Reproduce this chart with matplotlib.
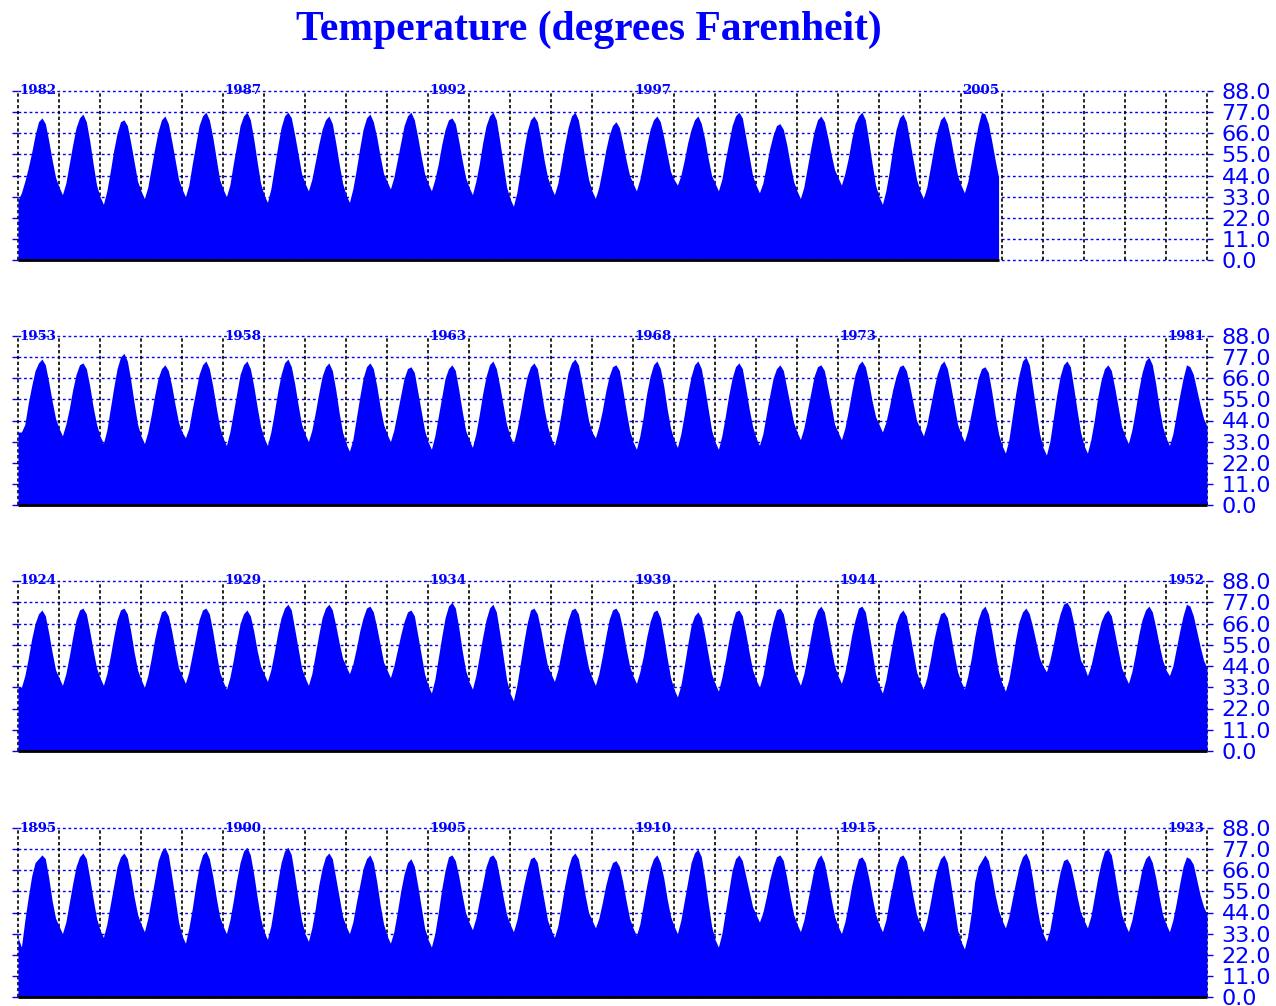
import matplotlib
matplotlib.use("Agg")
import matplotlib.pyplot as plt
import numpy as np

# monthly temperatures (deg F), values at the start of each month, one row per year
temp_1895_1923 = [
    31, 26, 40, 52, 63, 70, 72, 74, 72, 62, 50, 41,  # 1895
    37, 33, 39, 49, 59, 68, 73, 75, 72, 62, 51, 41,  # 1896
    35, 31, 38, 48, 58, 68, 73, 75, 72, 63, 52, 43,  # 1897
    38, 34, 41, 51, 61, 71, 76, 78, 74, 63, 51, 39,  # 1898
    32, 28, 36, 46, 58, 68, 74, 76, 72, 63, 52, 42,  # 1899
    37, 33, 40, 50, 61, 70, 76, 78, 74, 64, 52, 41,  # 1900
    34, 30, 37, 48, 60, 70, 76, 78, 74, 63, 51, 40,  # 1901
    33, 29, 36, 46, 58, 67, 73, 75, 72, 62, 52, 42,  # 1902
    37, 33, 39, 49, 58, 67, 72, 74, 70, 60, 48, 38,  # 1903
    32, 28, 34, 44, 55, 64, 70, 72, 68, 58, 47, 36,  # 1904
    30, 26, 33, 44, 56, 66, 73, 74, 71, 63, 53, 44,  # 1905
    39, 35, 41, 50, 59, 68, 73, 74, 71, 62, 52, 43,  # 1906
    38, 34, 40, 49, 58, 66, 72, 73, 70, 60, 50, 40,  # 1907
    35, 31, 37, 47, 58, 67, 73, 75, 72, 63, 53, 44,  # 1908
    40, 36, 41, 49, 58, 65, 70, 71, 68, 60, 50, 41,  # 1909
    36, 32, 38, 48, 58, 67, 72, 74, 70, 62, 51, 42,  # 1910
    37, 33, 40, 50, 60, 70, 75, 77, 73, 62, 49, 37,  # 1911
    30, 26, 33, 44, 55, 66, 72, 74, 71, 63, 55, 47,  # 1912
    43, 39, 44, 52, 61, 68, 73, 74, 71, 62, 52, 43,  # 1913
    38, 34, 40, 49, 58, 67, 72, 74, 70, 61, 51, 42,  # 1914
    37, 33, 39, 48, 58, 66, 72, 73, 70, 62, 52, 43,  # 1915
    38, 34, 40, 50, 59, 68, 73, 74, 71, 62, 52, 43,  # 1916
    38, 34, 40, 49, 59, 67, 72, 74, 70, 59, 47, 35,  # 1917
    29, 25, 32, 44, 60, 68, 71, 74, 71, 63, 53, 45,  # 1918
    40, 36, 42, 51, 60, 68, 73, 75, 71, 61, 49, 39,  # 1919
    33, 29, 35, 45, 56, 65, 71, 72, 69, 61, 52, 44,  # 1920
    40, 36, 42, 52, 62, 70, 76, 77, 74, 64, 53, 43,  # 1921
    38, 34, 40, 49, 58, 67, 72, 74, 70, 62, 52, 43,  # 1922
    38, 34, 40, 49, 59, 68, 73, 72, 69, 61, 53, 47,  # 1923
]

temp_1924_1952 = [
    33, 33, 39, 48, 58, 66, 71, 73, 70, 61, 51, 42,  # 1924
    38, 34, 40, 49, 59, 68, 73, 74, 71, 62, 52, 43,  # 1925
    38, 34, 40, 49, 59, 68, 73, 74, 71, 62, 51, 42,  # 1926
    37, 33, 39, 48, 58, 66, 72, 73, 70, 62, 52, 43,  # 1927
    39, 35, 41, 50, 59, 68, 73, 74, 71, 62, 51, 41,  # 1928
    36, 32, 38, 47, 57, 66, 71, 73, 70, 62, 52, 44,  # 1929
    40, 36, 42, 51, 61, 69, 74, 76, 73, 63, 53, 43,  # 1930
    38, 34, 40, 50, 60, 69, 74, 76, 73, 65, 56, 48,  # 1931
    44, 40, 45, 53, 62, 69, 74, 75, 72, 64, 55, 46,  # 1932
    42, 38, 44, 52, 60, 67, 72, 73, 70, 60, 50, 40,  # 1933
    34, 30, 37, 48, 59, 69, 75, 77, 74, 64, 52, 42,  # 1934
    36, 32, 39, 49, 59, 68, 74, 76, 72, 61, 49, 37,  # 1935
    30, 26, 34, 45, 56, 66, 73, 74, 71, 63, 53, 44,  # 1936
    40, 36, 42, 51, 60, 68, 73, 74, 71, 62, 52, 43,  # 1937
    38, 34, 40, 49, 59, 68, 73, 74, 71, 63, 53, 44,  # 1938
    39, 35, 41, 49, 59, 67, 72, 73, 69, 59, 48, 38,  # 1939
    32, 28, 34, 44, 55, 65, 70, 72, 69, 60, 50, 40,  # 1940
    35, 31, 38, 47, 57, 66, 72, 73, 70, 61, 51, 42,  # 1941
    37, 33, 39, 49, 59, 67, 73, 74, 71, 62, 52, 43,  # 1942
    38, 34, 40, 49, 59, 68, 73, 75, 72, 63, 53, 44,  # 1943
    39, 35, 41, 50, 60, 68, 74, 75, 72, 62, 51, 40,  # 1944
    34, 30, 37, 47, 57, 66, 71, 73, 70, 61, 51, 41,  # 1945
    36, 32, 38, 47, 57, 65, 71, 72, 69, 60, 50, 41,  # 1946
    36, 32, 39, 48, 59, 68, 73, 75, 71, 62, 51, 41,  # 1947
    35, 31, 37, 47, 58, 67, 72, 74, 71, 64, 56, 48,  # 1948
    44, 41, 47, 55, 64, 71, 76, 77, 74, 66, 56, 47,  # 1949
    44, 39, 44, 52, 60, 67, 71, 73, 70, 61, 52, 43,  # 1950
    39, 35, 41, 50, 60, 68, 73, 75, 72, 64, 55, 47,  # 1951
    42, 39, 44, 53, 62, 70, 76, 75, 70, 62, 54, 47,  # 1952
]

temp_1953_1981 = [
    38, 38, 42, 53, 62, 70, 74, 76, 73, 64, 54, 45,  # 1953
    40, 36, 42, 50, 60, 68, 73, 74, 71, 62, 51, 42,  # 1954
    36, 32, 39, 50, 61, 71, 77, 79, 75, 65, 53, 42,  # 1955
    36, 32, 38, 47, 57, 66, 71, 73, 70, 62, 52, 43,  # 1956
    38, 35, 40, 50, 59, 68, 73, 75, 71, 62, 51, 41,  # 1957
    35, 31, 38, 48, 58, 68, 73, 75, 71, 62, 51, 41,  # 1958
    35, 31, 38, 48, 59, 68, 74, 76, 72, 63, 52, 42,  # 1959
    37, 33, 39, 48, 58, 67, 72, 74, 70, 60, 48, 38,  # 1960
    32, 28, 34, 45, 56, 66, 72, 74, 71, 62, 51, 42,  # 1961
    37, 33, 39, 48, 57, 66, 71, 72, 69, 59, 49, 39,  # 1962
    33, 29, 36, 46, 56, 66, 71, 73, 70, 60, 49, 39,  # 1963
    34, 30, 37, 47, 58, 67, 73, 75, 71, 62, 52, 42,  # 1964
    36, 32, 39, 48, 58, 67, 72, 74, 71, 61, 50, 41,  # 1965
    35, 31, 38, 48, 59, 69, 74, 76, 73, 64, 54, 44,  # 1966
    38, 35, 41, 49, 59, 67, 72, 73, 70, 60, 49, 39,  # 1967
    33, 29, 36, 46, 58, 67, 73, 75, 71, 62, 50, 40,  # 1968
    34, 30, 37, 47, 58, 67, 73, 75, 71, 61, 50, 39,  # 1969
    33, 29, 36, 46, 57, 66, 72, 74, 71, 61, 50, 41,  # 1970
    35, 31, 37, 47, 57, 66, 71, 73, 70, 61, 52, 43,  # 1971
    38, 34, 40, 49, 58, 67, 72, 73, 70, 61, 52, 42,  # 1972
    38, 34, 40, 49, 59, 68, 73, 75, 72, 64, 54, 46,  # 1973
    42, 38, 43, 51, 60, 67, 72, 73, 70, 62, 53, 44,  # 1974
    40, 36, 42, 51, 60, 68, 73, 75, 71, 62, 52, 42,  # 1975
    37, 33, 39, 48, 57, 66, 71, 72, 69, 59, 47, 37,  # 1976
    31, 27, 34, 46, 58, 68, 75, 77, 73, 61, 49, 37,  # 1977
    30, 26, 33, 45, 57, 67, 73, 75, 72, 61, 49, 38,  # 1978
    31, 27, 34, 44, 56, 65, 71, 73, 70, 61, 51, 41,  # 1979
    36, 32, 39, 49, 60, 69, 75, 77, 73, 63, 51, 41,  # 1980
    35, 31, 37, 47, 57, 66, 73, 72, 68, 60, 52, 45,  # 1981
]

temp_1982_2005 = [
    31, 35, 41, 48, 56, 65, 72, 74, 71, 62, 52, 43,  # 1982
    38, 34, 40, 50, 60, 69, 74, 76, 72, 62, 50, 39,  # 1983
    33, 29, 36, 46, 57, 66, 72, 73, 70, 61, 51, 41,  # 1984
    36, 32, 38, 48, 58, 67, 73, 75, 71, 62, 52, 42,  # 1985
    37, 33, 39, 50, 60, 70, 75, 77, 73, 64, 53, 42,  # 1986
    37, 33, 39, 50, 60, 70, 75, 77, 73, 63, 51, 40,  # 1987
    34, 30, 37, 48, 59, 69, 75, 77, 74, 65, 55, 45,  # 1988
    40, 36, 42, 51, 60, 68, 73, 75, 71, 61, 50, 40,  # 1989
    34, 30, 37, 47, 58, 68, 74, 76, 72, 64, 54, 45,  # 1990
    41, 37, 43, 52, 61, 70, 75, 77, 73, 64, 54, 45,  # 1991
    40, 36, 42, 50, 60, 68, 73, 74, 71, 62, 52, 43,  # 1992
    38, 34, 41, 50, 61, 70, 75, 77, 73, 62, 50, 38,  # 1993
    32, 28, 35, 46, 57, 67, 73, 75, 72, 63, 52, 43,  # 1994
    38, 34, 40, 50, 60, 69, 75, 77, 73, 63, 52, 42,  # 1995
    36, 32, 38, 47, 57, 65, 70, 72, 69, 61, 52, 44,  # 1996
    40, 36, 42, 51, 60, 68, 73, 75, 72, 64, 55, 46,  # 1997
    42, 39, 44, 52, 61, 68, 73, 75, 71, 63, 53, 44,  # 1998
    40, 36, 42, 52, 61, 70, 75, 77, 74, 64, 54, 44,  # 1999
    39, 35, 40, 49, 58, 65, 70, 71, 68, 60, 50, 41,  # 2000
    36, 32, 38, 48, 58, 67, 73, 75, 72, 64, 55, 47,  # 2001
    43, 39, 45, 53, 63, 71, 75, 77, 73, 62, 50, 39,  # 2002
    33, 29, 36, 46, 58, 68, 74, 76, 72, 62, 52, 42,  # 2003
    36, 32, 38, 48, 58, 67, 73, 75, 71, 63, 53, 44,  # 2004
    39, 35, 41, 51, 61, 70, 77, 76, 71, 62, 52, 43,  # 2005
]

# value at the right edge of each panel (first of January of the following year)
edge_values = [None, 41, 43, 43]

panel_data = [temp_1982_2005, temp_1953_1981, temp_1924_1952, temp_1895_1923]
panel_start = [1982, 1953, 1924, 1895]
panel_labels = [
    [1982, 1987, 1992, 1997, 2005],
    [1953, 1958, 1963, 1968, 1973, 1981],
    [1924, 1929, 1934, 1939, 1944, 1952],
    [1895, 1900, 1905, 1910, 1915, 1923],
]
yticks = [0, 11, 22, 33, 44, 55, 66, 77, 88]

BLUE = "#0000ff"
W, H = 1276, 1006
fig = plt.figure(figsize=(W / 100, H / 100), dpi=100)

# pixel geometry of the panels: (top of 88 line, 0 line)
tops = [91, 336, 581, 828]
bottoms = [260, 505, 751, 997]
x_left, x_right = 18, 1207

for i in range(4):
    ax = fig.add_axes([x_left / W, 1 - bottoms[i] / H,
                       (x_right - x_left) / W, (bottoms[i] - tops[i]) / H])
    vals = list(panel_data[i])
    x = list(np.arange(len(vals)) / 12.0)
    if edge_values[i] is not None:
        x.append(29.0)
        vals.append(edge_values[i])
    ax.fill_between(x, 0, vals, color=BLUE, lw=0, zorder=3)
    # black base line only under the data
    ax.plot([0, x[-1]], [0, 0], color="black", lw=2, zorder=5,
            clip_on=False, solid_capstyle="butt")

    for yv in yticks:
        ax.axhline(yv, color=BLUE, lw=1.0, ls=(0, (2, 2)), zorder=1, clip_on=False)
    for k in range(30):
        ax.axvline(k, color="black", lw=1.2, ls=(0, (2, 1.5)), zorder=2, clip_on=False)

    ax.set_xlim(0, 29)
    ax.set_ylim(0, 88)
    for s in ax.spines.values():
        s.set_visible(False)
    ax.set_xticks([])
    ax.set_yticks(yticks)
    ax.set_yticklabels(["%.1f" % v for v in yticks])
    ax.tick_params(axis="y", which="both", left=True, right=True,
                   labelleft=False, labelright=True, direction="out",
                   length=4.5, width=1, color=BLUE, labelcolor=BLUE,
                   labelsize=16, pad=6)
    for lab in ax.get_yticklabels():
        lab.set_fontfamily("DejaVu Sans")

    for yr in panel_labels[i]:
        ax.text(yr - panel_start[i] + 0.03, 88, str(yr), ha="left", va="center",
                fontfamily="DejaVu Serif", fontweight="bold", fontsize=9.6,
                color=BLUE, zorder=6, clip_on=False)

fig.text(589 / W, 1 - 30 / H, "Temperature (degrees Farenheit)", ha="center",
         va="center", fontfamily="Liberation Serif", fontweight="bold",
         fontsize=30, color=BLUE)

fig.savefig("out.png", dpi=100)
